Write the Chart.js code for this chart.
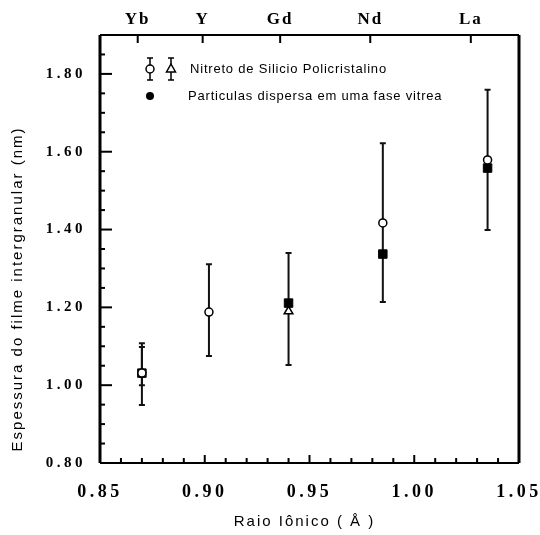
<!DOCTYPE html>
<html>
<head>
<meta charset="utf-8">
<script src="https://cdn.jsdelivr.net/npm/chart.js@4/dist/chart.umd.min.js"></script>
<style>
  html, body { margin: 0; padding: 0; background: #fff; }
  #wrap { width: 540px; height: 535px; }
</style>
</head>
<body>
<div id="wrap"><canvas id="filmChart"></canvas></div>
<script>
// elementos (eixo superior)
const elementNames = ['Yb', 'Y', 'Gd', 'Nd', 'La'];
const elementRadius = [0.868, 0.899, 0.936, 0.979, 1.027];

// Nitreto de silicio - circulos abertos
const circleX = [0.870, 0.902, 0.985, 1.035];
const circleY = [1.031, 1.188, 1.417, 1.579];
const circleLow = [0.949, 1.075, 1.214, 1.399];
const circleHigh = [1.108, 1.311, 1.622, 1.759];

// Nitreto de silicio - triangulos abertos
const triX = [0.940];
const triY = [1.190];
const triLow = [1.052];
const triHigh = [1.340];

// particulas em fase vitrea - preenchidos
const fillX = [0.870, 0.940, 0.985, 1.035];
const fillY = [1.031, 1.211, 1.337, 1.558];
const fillLow = [1.000, null, null, null];
const fillHigh = [1.098, null, null, null];

const legendLabels = ['Nitreto de Silicio Policristalino', 'Particulas dispersa em uma fase vitrea'];

const toPts = (xs, ys) => xs.map((x, i) => ({ x: x, y: ys[i] }));
const serif = '"Liberation Serif", "DejaVu Serif", serif';
const sans = '"Liberation Sans", Arial, sans-serif';

// espacamento entre letras e deslocamento dos titulos (o original e "esticado")
const textTweaks = {
  x: { labels: '3.5px', title: '2px', dx: -5, dy: 0 },
  xTop: { labels: '2px', title: '0px', dx: 0, dy: 0 },
  y: { labels: '3.5px', title: '2px', dx: 0, dy: 40 }
};

const letterSpacing = {
  id: 'letterSpacing',
  afterLayout(chart) {
    Object.keys(textTweaks).forEach(id => {
      const s = chart.scales[id];
      if (!s) return;
      const tw = textTweaks[id];
      ['drawLabels', 'drawTitle'].forEach(name => {
        const f = s[name];
        if (f._wrapped) return;
        const isTitle = name === 'drawTitle';
        const g = function (...args) {
          const c = this.ctx;
          c.save();
          c.letterSpacing = isTitle ? tw.title : tw.labels;
          if (isTitle) c.translate(tw.dx, tw.dy);
          f.apply(this, args);
          c.restore();
        };
        g._wrapped = true;
        s[name] = g;
      });
    });
  }
};

const errorBars = {
  id: 'errorBars',
  beforeDatasetsDraw(chart) {
    const c = chart.ctx, xs = chart.scales.x, ys = chart.scales.y;
    c.save();
    c.strokeStyle = '#111';
    c.lineWidth = 2;
    chart.data.datasets.forEach(ds => {
      if (!ds.errLow) return;
      ds.data.forEach((p, i) => {
        if (ds.errLow[i] == null) return;
        const px = xs.getPixelForValue(p.x);
        const y1 = ys.getPixelForValue(ds.errLow[i]);
        const y2 = ys.getPixelForValue(ds.errHigh[i]);
        c.beginPath();
        c.moveTo(px, y1); c.lineTo(px, y2);
        c.moveTo(px - 3, y1); c.lineTo(px + 3, y1);
        c.moveTo(px - 3, y2); c.lineTo(px + 3, y2);
        c.stroke();
      });
    });
    c.restore();
  }
};

const frame = {
  id: 'frame',
  afterDraw(chart) {
    const c = chart.ctx, a = chart.chartArea;
    const xs = chart.scales.x, ys = chart.scales.y, xt = chart.scales.xTop;
    c.save();
    c.strokeStyle = '#000';
    // bordas
    c.lineWidth = 3;
    c.beginPath(); c.moveTo(a.left, a.top); c.lineTo(a.left, a.bottom); c.stroke();
    c.beginPath(); c.moveTo(a.right, a.top); c.lineTo(a.right, a.bottom); c.stroke();
    c.lineWidth = 2;
    c.beginPath(); c.moveTo(a.left, a.bottom); c.lineTo(a.right, a.bottom); c.stroke();
    c.beginPath(); c.moveTo(a.left, a.top); c.lineTo(a.right, a.top); c.stroke();
    // marcas internas
    ys.ticks.forEach(t => {
      const py = ys.getPixelForValue(t.value);
      const major = Math.round(t.value * 100) % 20 === 0;
      c.beginPath(); c.moveTo(a.left, py); c.lineTo(a.left + (major ? 12 : 5), py); c.stroke();
    });
    xs.ticks.forEach(t => {
      const px = xs.getPixelForValue(t.value);
      const major = Math.round(t.value * 100) % 5 === 0;
      c.beginPath(); c.moveTo(px, a.bottom); c.lineTo(px, a.bottom - (major ? 8 : 5)); c.stroke();
    });
    xt.ticks.forEach(t => {
      const px = xt.getPixelForValue(t.value);
      c.beginPath(); c.moveTo(px, a.top); c.lineTo(px, a.top + 8); c.stroke();
    });
    // legenda
    const lx = a.left + 50, ly1 = 69, ly2 = 96;
    c.lineWidth = 1.5;
    [lx, lx + 21].forEach(x => {
      c.beginPath();
      c.moveTo(x, ly1 - 11); c.lineTo(x, ly1 + 11);
      c.moveTo(x - 3, ly1 - 11); c.lineTo(x + 3, ly1 - 11);
      c.moveTo(x - 3, ly1 + 11); c.lineTo(x + 3, ly1 + 11);
      c.stroke();
    });
    c.fillStyle = '#fff';
    c.beginPath(); c.arc(lx, ly1, 4, 0, Math.PI * 2); c.fill(); c.stroke();
    c.beginPath(); c.moveTo(lx + 21, ly1 - 5); c.lineTo(lx + 25.5, ly1 + 3); c.lineTo(lx + 16.5, ly1 + 3); c.closePath(); c.fill(); c.stroke();
    c.fillStyle = '#000';
    c.beginPath(); c.arc(lx, ly2, 4, 0, Math.PI * 2); c.fill();
    c.font = '13px ' + sans;
    c.letterSpacing = '0.8px';
    c.textBaseline = 'middle';
    c.fillText(legendLabels[0], lx + 40, ly1);
    c.fillText(legendLabels[1], lx + 38, ly2);
    c.restore();
  }
};

const noSidePadding = s => { s.paddingLeft = 0; s.paddingRight = 0; };

new Chart(document.getElementById('filmChart'), {
  type: 'scatter',
  data: {
    datasets: [
      {
        label: legendLabels[0],
        data: toPts(circleX, circleY),
        errLow: circleLow, errHigh: circleHigh,
        pointStyle: 'circle', pointRadius: 4,
        backgroundColor: '#fff', borderColor: '#000', borderWidth: 1.5
      },
      {
        label: legendLabels[0],
        data: toPts(triX, triY),
        errLow: triLow, errHigh: triHigh,
        pointStyle: 'triangle', pointRadius: 5,
        backgroundColor: '#fff', borderColor: '#000', borderWidth: 1.5
      },
      {
        label: legendLabels[1],
        data: toPts(fillX, fillY),
        errLow: fillLow, errHigh: fillHigh,
        pointStyle: 'rect', pointRadius: 6,
        backgroundColor: '#000', borderColor: '#000', borderWidth: 1
      }
    ]
  },
  options: {
    responsive: true,
    maintainAspectRatio: false,
    animation: false,
    layout: { padding: { left: 0, right: 21, top: 0, bottom: 0 } },
    plugins: {
      legend: { display: false },
      tooltip: { enabled: false }
    },
    scales: {
      x: {
        type: 'linear', position: 'bottom', min: 0.85, max: 1.05,
        afterFit: s => { s.height = 72; noSidePadding(s); },
        grid: { display: false, drawTicks: false },
        border: { display: false },
        ticks: {
          stepSize: 0.01, autoSkip: false, maxRotation: 0, padding: 19,
          color: '#000', font: { family: serif, size: 18, weight: 'bold' },
          callback: v => (Math.round(v * 100) % 5 === 0 ? v.toFixed(2) : '')
        },
        title: {
          display: true, text: 'Raio Iônico ( Å )', color: '#000',
          font: { family: sans, size: 15 },
          padding: { top: 4, bottom: 4 }
        }
      },
      xTop: {
        type: 'linear', position: 'top', min: 0.85, max: 1.05,
        afterFit: s => { s.height = 35; noSidePadding(s); },
        afterBuildTicks: s => { s.ticks = elementRadius.map(v => ({ value: v })); },
        grid: { display: false, drawTicks: false },
        border: { display: false },
        ticks: {
          autoSkip: false, maxRotation: 0, padding: 5,
          color: '#000', font: { family: serif, size: 17, weight: 'bold' },
          callback: (v, i) => elementNames[i]
        }
      },
      y: {
        type: 'linear', min: 0.80, max: 1.90,
        afterFit: s => { s.width = 100; },
        grid: { display: false, drawTicks: false },
        border: { display: false },
        ticks: {
          stepSize: 0.05, autoSkip: false, padding: 14,
          color: '#000', font: { family: serif, size: 15, weight: 'bold' },
          callback: v => (Math.round(v * 100) % 20 === 0 && v < 1.85 ? v.toFixed(2) : '')
        },
        title: {
          display: true, text: 'Espessura do filme intergranular (nm)', color: '#000',
          font: { family: sans, size: 15 },
          padding: { top: 9, bottom: 4 }
        }
      }
    }
  },
  plugins: [letterSpacing, errorBars, frame]
});
</script>
</body>
</html>
